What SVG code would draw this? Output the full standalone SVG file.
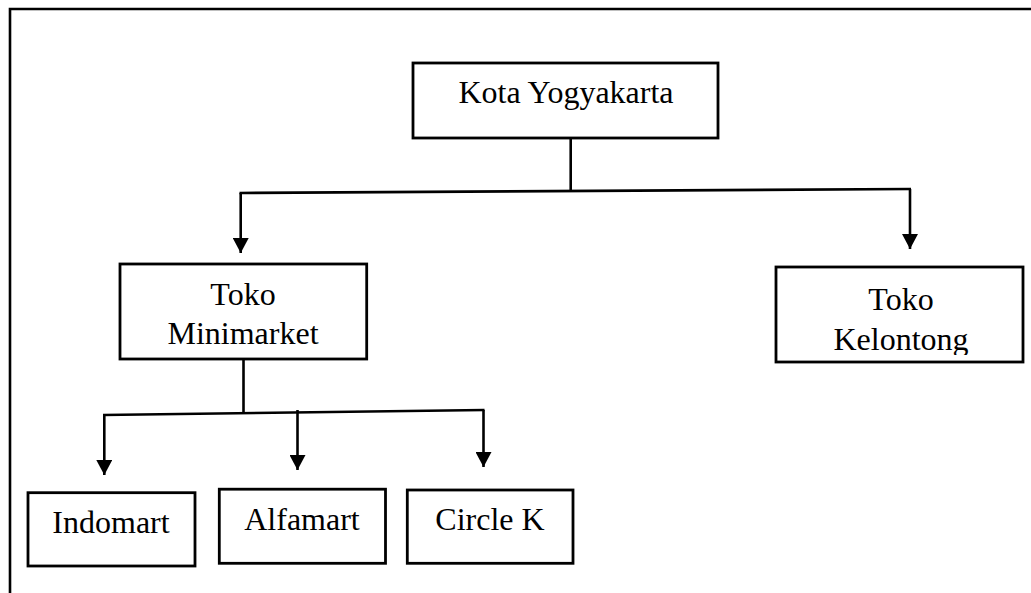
<svg xmlns="http://www.w3.org/2000/svg" width="1031" height="593" viewBox="0 0 1031 593">
<style>
.box{fill:#fff;stroke:#000;stroke-width:2.8}
.lbl{font-family:"Liberation Serif","Times New Roman",serif;font-size:32px;fill:#000;text-anchor:middle}
.con{fill:none;stroke:#000;stroke-width:2.6}
.arr{fill:none;stroke:#000;stroke-width:2.6;marker-end:url(#ah)}
.frame{fill:none;stroke:#000;stroke-width:2.6}
</style>
<defs>
<marker id="ah" markerUnits="userSpaceOnUse" markerWidth="16" markerHeight="16" viewBox="0 0 16 16" refX="15" refY="8" orient="auto">
<path d="M0,0 L15,8 L0,16 Z" fill="#000"/>
</marker>
<clipPath id="clipKel"><rect x="776" y="267" width="247" height="88"/></clipPath>
</defs>
<rect width="1031" height="593" fill="#fff"/>
<g id="frame">
<path class="frame" d="M10,593 V9 H1031"/>
</g>
<g id="connectors">
<path class="con" d="M570.7,138 V191"/>
<path class="con" d="M239.5,193 L911,189"/>
<path class="arr" d="M240.7,193 V253"/>
<path class="arr" d="M910,189 V249"/>
<path class="con" d="M243.5,359 V412"/>
<path class="con" d="M103,415 L484.5,410"/>
<path class="arr" d="M104.3,415 V475"/>
<path class="arr" d="M297.5,410 V470"/>
<path class="arr" d="M483.5,410 V467"/>
</g>
<g id="kota">
<rect class="box" x="413" y="63" width="305" height="75"/>
<text class="lbl" x="566" y="103">Kota Yogyakarta</text>
</g>
<g id="minimarket">
<rect class="box" x="120" y="264" width="246.7" height="95"/>
<text class="lbl" x="243" y="305">Toko</text>
<text class="lbl" x="243" y="344">Minimarket</text>
</g>
<g id="kelontong">
<rect class="box" x="776" y="267" width="247" height="95"/>
<text class="lbl" x="901" y="310">Toko</text>
<text class="lbl" x="901" y="350" clip-path="url(#clipKel)">Kelontong</text>
</g>
<g id="indomart">
<rect class="box" x="28" y="492.7" width="167" height="73.3"/>
<text class="lbl" x="111" y="533">Indomart</text>
</g>
<g id="alfamart">
<rect class="box" x="219.3" y="489.2" width="166.2" height="74.1"/>
<text class="lbl" x="302" y="529.5">Alfamart</text>
</g>
<g id="circlek">
<rect class="box" x="407.3" y="490" width="165.7" height="73.3"/>
<text class="lbl" x="490" y="530">Circle K</text>
</g>
</svg>
